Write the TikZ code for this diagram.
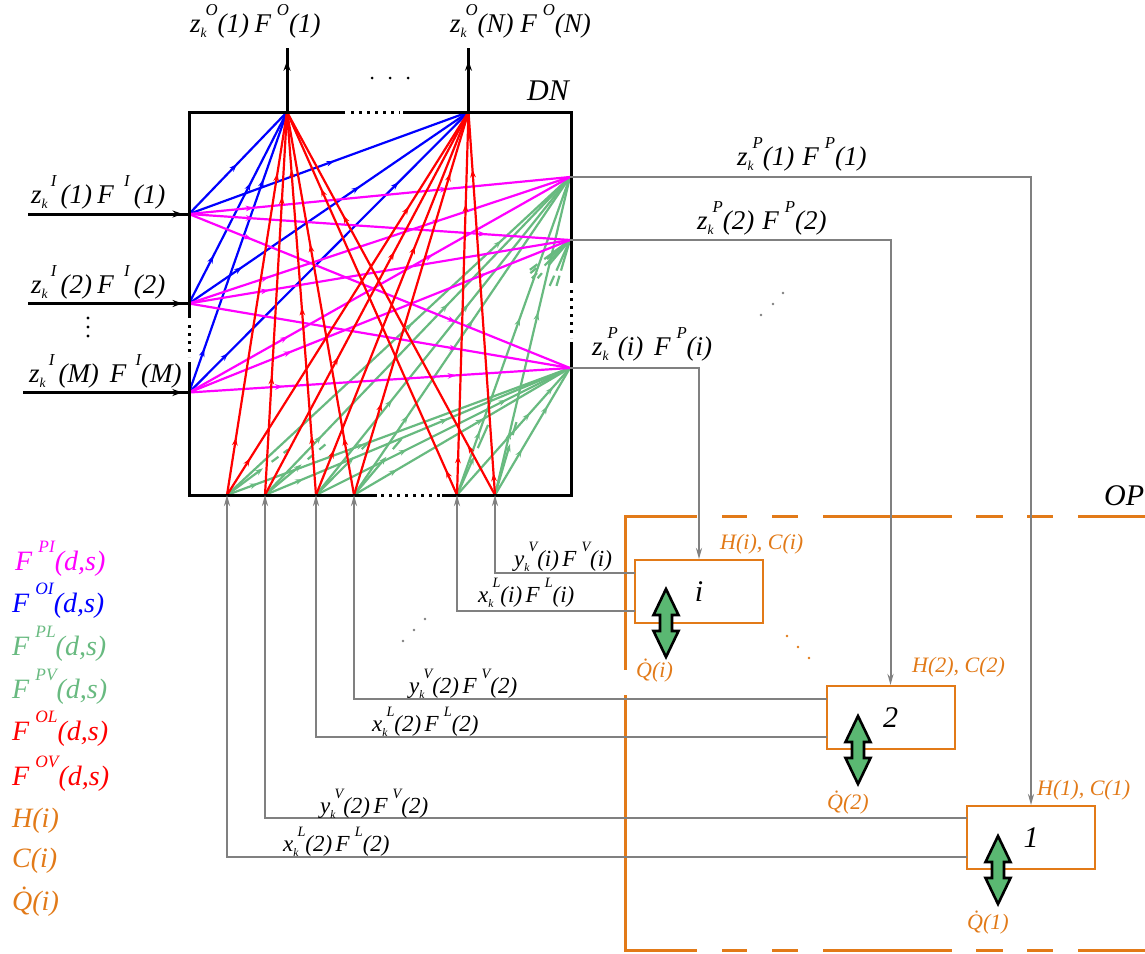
\documentclass[tikz,border=0pt]{standalone}
\usepackage{graphicx}
\usepackage{fontspec}
\setmainfont{Liberation Serif}
\usetikzlibrary{arrows.meta,calc,decorations.markings}
\definecolor{cOrange}{RGB}{226,122,24}
\definecolor{cGreen}{RGB}{104,186,128}
\definecolor{cFill}{RGB}{90,184,114}
\definecolor{cGray}{RGB}{128,128,128}
\definecolor{cMag}{RGB}{255,0,255}
\definecolor{cBlue}{RGB}{0,0,255}
\definecolor{cRed}{RGB}{255,0,0}
\newcommand\fsup[1]{F\kern.22em\raisebox{.62em}{\scalebox{.62}{#1}}}
\newcommand\zsup[3]{#1\rlap{\raisebox{-.22em}{\scalebox{.5}{#2}}}\kern.18em\raisebox{.62em}{\scalebox{.62}{#3}}}
\newcommand\gapI{\kern.25em I\kern.25em}
\newcommand\Qd{\.{Q}}
\newcommand\dblarrow[2]{\draw[dbl,shift={(#1,#2)}] (0,0) -- (12.5,26) -- (6,26) -- (6,42) -- (12.5,42) -- (0,68) -- (-12.5,42) -- (-6,42) -- (-6,26) -- (-12.5,26) -- cycle;}
\tikzset{
  mk/.style={postaction={decorate,decoration={markings,mark=at position #1 with {\arrow{Stealth[length=8pt,width=5.6pt]}}}}},
  mkb/.style={postaction={decorate,decoration={markings,mark=at position #1 with {\arrow{Stealth[length=10pt,width=7pt]}}}}},
  frame/.style={draw=black,line width=3pt,line cap=square},
  framedots/.style={draw=black,line width=3pt,dash pattern=on 3pt off 5pt},
  inlet/.style={draw=black,line width=3pt},
  bl/.style={draw=cBlue,line width=2.2pt},
  mg/.style={draw=cMag,line width=2.2pt},
  rd/.style={draw=cRed,line width=2.2pt},
  gn/.style={draw=cGreen,line width=2.2pt},
  gnend/.style={gn,-{Stealth[length=8pt,width=5.6pt]}},
  gy/.style={draw=cGray,line width=2pt},
  gyarrow/.style={gy,-{Stealth[length=11pt,width=6pt]}},
  op/.style={draw=cOrange,line width=3pt},
  unitbox/.style={draw=cOrange,line width=2pt,minimum width=128pt,minimum height=63pt,inner sep=0pt,font=\fontsize{30}{32}\selectfont\itshape},
  dbl/.style={draw=black,line width=2.6pt,fill=cFill,line join=miter},
  big/.style={anchor=base west,inner sep=0pt,font=\fontsize{27}{30}\selectfont\itshape},
  tag/.style={anchor=base west,inner sep=0pt,font=\fontsize{30}{32}\selectfont\itshape},
  small/.style={anchor=base west,inner sep=0pt,font=\fontsize{23}{26}\selectfont\itshape},
  orng/.style={anchor=base west,inner sep=0pt,text=cOrange,font=\fontsize{22}{24}\selectfont\itshape},
  leg/.style={anchor=base west,inner sep=0pt,font=\fontsize{28}{32}\selectfont\itshape},
}
\begin{document}
\begin{tikzpicture}[x=1pt,y=-1pt]
\useasboundingbox (0,0) rectangle (1145,953);
\fill[white] (0,0) rectangle (1145,953);
% ports
\coordinate (O1) at (287,112); \coordinate (ON) at (468.5,112);
\coordinate (O1e) at (287,48); \coordinate (ONe) at (468.5,48);
\coordinate (I1) at (189,214); \coordinate (I2) at (189,303.5); \coordinate (IM) at (189,392.5);
\coordinate (I1s) at (28,214); \coordinate (I2s) at (28,303.5); \coordinate (IMs) at (23,392.5);
\coordinate (P1) at (570,177); \coordinate (P2) at (570,240); \coordinate (Pi) at (570,368);
\coordinate (L1) at (227,495); \coordinate (L2) at (265,495); \coordinate (L3) at (316,495);
\coordinate (L4) at (354,495); \coordinate (L5) at (457,495); \coordinate (L6) at (495,495);
% OP boundary
\draw[op] (697,516) -- (625,516) -- (625,670);
\draw[op] (625,695) -- (625,950) -- (697,950);
\foreach \a/\b in {722/747,772/798,823/952,976/1003,1027/1053,1078/1145}{
  \draw[op] (\a,516) -- (\b,516);
  \draw[op] (\a,950) -- (\b,950);
}
% green
\foreach \l/\s/\t in {L1/.09/.4,L2/.125/.6,L3/.358/.75,L4/.2/.6,L5/.646/.85,L6/.36/.7}{
  \draw[gn,mk=\s,mk=\t] (\l) -- (Pi);
}
\foreach \l/\s/\t in {L1/.54/.8,L2/.186/.6,L3/.3/.6,L4/.25/.55,L5/.2/.557,L6/.2/.575}{
  \draw[gn,mk=\s,mk=\t] (\l) -- (P1);
}
\foreach \l/\s in {L1/.105,L2/.12,L3/.15,L4/.15,L5/.15,L6/.2}{
  \draw[gnend] (\l) -- ($(\l)!\s!(P2)$);
}
\foreach \l/\s/\e in {L1/.13/.15,L1/.165/.178,L2/.14/.16,L2/.178/.198,L3/.18/.21,L4/.18/.22,L5/.184/.275,L6/.235/.286,
  L1/.883/.905,L2/.87/.89,L3/.85/.87,L4/.85/.87,L5/.82/.86,L6/.82/.86}{
  \draw[gn] ($(\l)!\s!(P2)$) -- ($(\l)!\e!(P2)$);
}
\foreach \l/\s in {L1/.925,L2/.925,L3/.9,L4/.9,L5/.88,L6/.88}{
  \draw[gn] ($(\l)!\s!(P2)$) -- (P2);
}
% blue
\draw[bl,mk=.49] (I1) -- (O1);
\draw[bl,mk=.52] (I1) -- (ON);
\draw[bl,mk=.25,mk=.63] (I2) -- (O1);
\draw[bl,mk=.19,mk=.61] (I2) -- (ON);
\draw[bl,mk=.156,mk=.76] (IM) -- (O1);
\draw[bl,mk=.14,mk=.75] (IM) -- (ON);
% magenta
\draw[mg,mk=.17,mk=.68] (I1) -- (P1);
\draw[mg,mk=.17,mk=.78] (I1) -- (P2);
\draw[mg,mk=.165,mk=.7] (I1) -- (Pi);
\draw[mg,mk=.21,mk=.66] (I2) -- (P1);
\draw[mg,mk=.21] (I2) -- (P2);
\draw[mg,mk=.705] (I2) -- (Pi);
\draw[mg,mk=.26,mk=.64] (IM) -- (P1);
\draw[mg,mk=.27,mk=.78] (IM) -- (P2);
\draw[mg,mk=.247,mk=.7] (IM) -- (Pi);
% red
\draw[rd,mk=.15,mk=.84] (L1) -- (O1);
\draw[rd,mk=.31,mk=.78] (L2) -- (O1);
\draw[rd,mk=.154,mk=.49,mk=.85] (L3) -- (O1);
\draw[rd,mk=.15,mk=.655] (L4) -- (O1);
\draw[rd,mk=.065,mk=.8] (L5) -- (O1);
\draw[rd,mk=.13,mk=.73] (L6) -- (O1);
\draw[rd,mk=.096,mk=.753] (L1) -- (ON);
\draw[rd,mk=.36,mk=.635] (L2) -- (ON);
\draw[rd,mk=.117,mk=.65] (L3) -- (ON);
\draw[rd,mk=.24,mk=.84] (L4) -- (ON);
\draw[rd,mk=.104,mk=.76] (L5) -- (ON);
\draw[rd,mk=.057,mk=.85] (L6) -- (ON);
% frame
\draw[frame] (345,112) -- (189,112) -- (189,318);
\draw[frame] (403,112) -- (571,112) -- (571,283);
\draw[frame] (189,362) -- (189,495) -- (377,495);
\draw[frame] (442,495) -- (571,495) -- (571,342);
\draw[framedots] (351,112) -- (400,112);
\draw[framedots] (381,495) -- (440,495);
\draw[framedots] (189,325) -- (189,357);
\draw[framedots] (571,290) -- (571,338);
% outlets, inlets
\draw[inlet,mkb=.8] (O1) -- (O1e);
\draw[inlet,mkb=.8] (ON) -- (ONe);
\draw[inlet,mkb=.96] (I1s) -- (I1);
\draw[inlet,mkb=.96] (I2s) -- (I2);
\draw[inlet,mkb=.96] (IMs) -- (IM);
% units
\node[unitbox] (bi) at (699,591.5) {i};
\node[unitbox] (b2) at (890.5,717.5) {2};
\node[unitbox] (b1) at (1031,837.5) {1};
\draw[gyarrow] (P1) -| (b1.north);
\draw[gyarrow] (P2) -| (b2.north);
\draw[gyarrow] (Pi) -| (bi.north);
\coordinate (Vi) at (635,573); \coordinate (Li) at (635,611);
\coordinate (V2) at (826.5,699); \coordinate (L2b) at (826.5,737);
\coordinate (V1) at (967,818); \coordinate (L1b) at (967,857);
\draw[gyarrow] (Vi) -| (L6);
\draw[gyarrow] (Li) -| (L5);
\draw[gyarrow] (V2) -| (L4);
\draw[gyarrow] (L2b) -| (L3);
\draw[gyarrow] (V1) -| (L2);
\draw[gyarrow] (L1b) -| (L1);
\dblarrow{666}{589}
\dblarrow{858}{716}
\dblarrow{998}{836}
% dots
\foreach \x in {372,390,408}{\fill[black] (\x,78) circle (1.5);}
\foreach \y in {318,327,336}{\fill[black] (88,\y) circle (1.7);}
\foreach \x/\y in {761/315,773/304,783/293,403/641,414/630,425/619}{\fill[cGray] (\x,\y) circle (1.3);}
\foreach \x/\y in {787/636,798/647,809/658}{\fill[cOrange] (\x,\y) circle (1.3);}
% labels
\node[big] (tO1) at (190,32) {\zsup{z}{k}{O}(1)\kern.2em\fsup{O}(1)};
\node[big] (tON) at (450,32) {\zsup{z}{k}{O}(N)\kern.25em\fsup{O}(N)};
\node[tag] (tDN) at (527,100) {DN};
\node[tag] (tOP) at (1104,505) {OP};
\node[big] (tI1) at (31,203) {\zsup{z}{k}{\gapI}(1)\kern.2em\fsup{\gapI}(1)};
\node[big] (tI2) at (31,293) {\zsup{z}{k}{\gapI}(2)\kern.2em\fsup{\gapI}(2)};
\node[big] (tIM) at (29,382) {\zsup{z}{k}{\gapI}(M)\kern.4em\fsup{\kern.2em I}(M)};
\node[big] (tP1) at (737,165) {\zsup{z}{k}{P}(1)\kern.3em\fsup{P}(1)};
\node[big] (tP2) at (697,229) {\zsup{z}{k}{P}(2)\kern.3em\fsup{P}(2)};
\node[big] (tPi) at (592,355) {\zsup{z}{k}{P}(i)\kern.4em\fsup{P}(i)};
\node[small] (tyi) at (514,566) {\zsup{y}{k}{V}(i)\kern.15em\fsup{V}(i)};
\node[small] (txi) at (478,602) {\zsup{x}{k}{L}(i)\kern.15em\fsup{L}(i)};
\node[small] (ty2) at (409,693) {\zsup{y}{k}{V}(2)\kern.15em\fsup{V}(2)};
\node[small] (tx2) at (372,731) {\zsup{x}{k}{L}(2)\kern.15em\fsup{L}(2)};
\node[small] (ty1) at (320,813) {\zsup{y}{k}{V}(2)\kern.15em\fsup{V}(2)};
\node[small] (tx1) at (283,851) {\zsup{x}{k}{L}(2)\kern.15em\fsup{L}(2)};
\node[orng] (hi) at (720,549) {H(i), C(i)};
\node[orng] (h2) at (912,672) {H(2), C(2)};
\node[orng] (h1) at (1037,795) {H(1), C(1)};
\node[orng] (qi) at (636,677) {\Qd(i)};
\node[orng] (q2) at (827,809) {\Qd(2)};
\node[orng] (q1) at (967,929) {\Qd(1)};
% legend
\node[leg,text=cMag] (l1) at (15,570) {\fsup{PI}(d,s)};
\node[leg,text=cBlue] (l2) at (12,612) {\fsup{OI}(d,s)};
\node[leg,text=cGreen] (l3) at (12,655) {\fsup{PL}(d,s)};
\node[leg,text=cGreen] (l4) at (12,698) {\fsup{PV}(d,s)};
\node[leg,text=cRed] (l5) at (12,740) {\fsup{OL}(d,s)};
\node[leg,text=cRed] (l6) at (12,785) {\fsup{OV}(d,s)};
\node[leg,text=cOrange] (l7) at (12,827) {H(i)};
\node[leg,text=cOrange] (l8) at (12,867) {C(i)};
\node[leg,text=cOrange] (l9) at (12,910) {\Qd(i)};
\end{tikzpicture}
\end{document}
